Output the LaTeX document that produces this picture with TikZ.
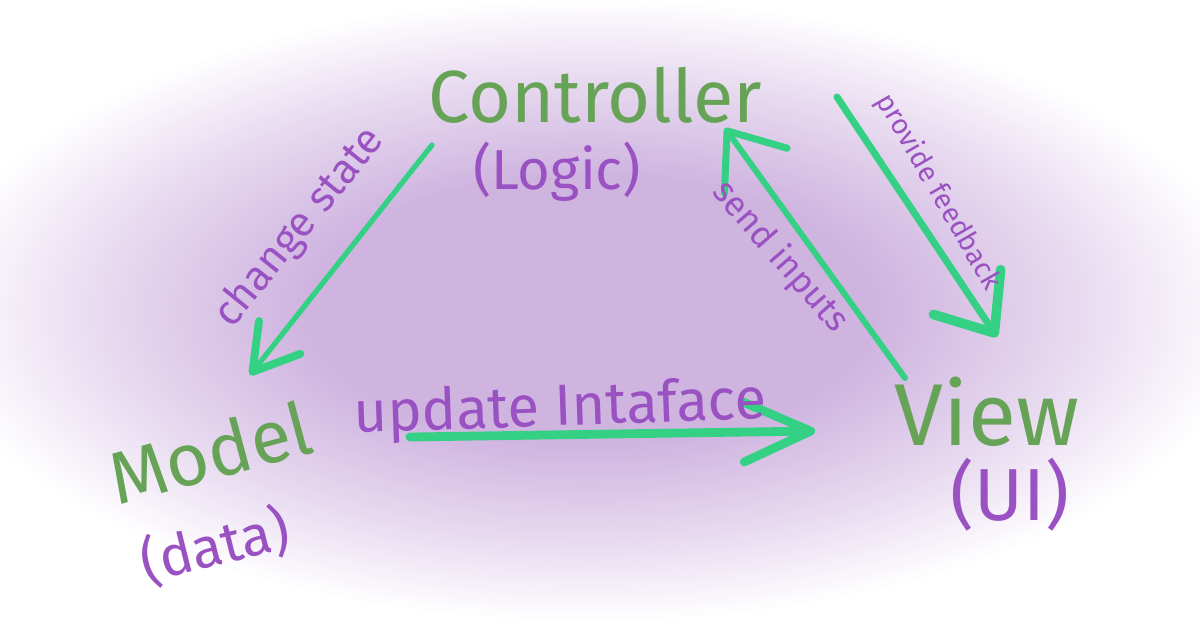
\documentclass[tikz,border=0pt]{standalone}
\usepackage{fontspec}
\setmainfont{Fira Sans}
\usetikzlibrary{arrows.meta}
\definecolor{namegreen}{RGB}{103,163,86}
\definecolor{notepurple}{RGB}{154,82,194}
\definecolor{flowgreen}{RGB}{52,209,132}
\definecolor{glowpurple}{RGB}{207,180,224}
\pgfdeclareradialshading{glow}{\pgfpoint{0bp}{0bp}}{color(0bp)=(glowpurple); color(6.5bp)=(glowpurple); color(11bp)=(glowpurple!50!white); color(15bp)=(white); color(50bp)=(white)}
\tikzset{
  parttext/.style={text=namegreen, font=\fontsize{42}{42}\selectfont},
  rolenote/.style={text=notepurple, font=\fontsize{32}{32}\selectfont},
  flowtext/.style={text=notepurple, font=\fontsize{#1}{#1}\selectfont},
  flowline/.style n args={4}{draw=flowgreen, line width=#1, line cap=round,
    -{Straight Barb[length=#2, width=#3, line width=#4, round]}}
}

\begin{document}
\begin{tikzpicture}[x=0.02cm, y=-0.02cm]

  \useasboundingbox (0,0) rectangle (1200,630);
  \fill[white] (0,0) rectangle (1200,630);
  \begin{scope}
    \clip (0,0) rectangle (1200,630);
    \shade[shading=glow] (-510,-210) rectangle (1690,830);
  \end{scope}

  \node[parttext] (ctrl) at (595,95) {Controller};
  \node[rolenote] (logic) at (557,172) {(Logic)};
  \node[parttext, rotate=15] (model) at (210,452) {Model};
  \node[rolenote, rotate=14] (data) at (215,546) {(data)};
  \node[parttext, font=\fontsize{50}{50}\selectfont] (view) at (987,412) {View};
  \node[rolenote, font=\fontsize{42}{42}\selectfont] (ui) at (1010,495) {(UI)};

  \draw[flowline={3pt}{25pt}{30pt}{4.5pt}] ([shift={(-163,50)}]ctrl.center) -- ([shift={(40,-77)}]model.center); % C->M
  \node[flowtext=24, rotate=51] (chg) at (300,228) {change state};

  \draw[flowline={5pt}{38pt}{34pt}{5pt}] ([shift={(200,-15)}]model.center) -- ([shift={(-172,19)}]view.center); % M->V
  \node[flowtext=33, rotate=2] (upd) at (560,410) {update Intaface};

  \draw[flowline={3.4pt}{28pt}{44pt}{4pt}] ([shift={(-82,-34)}]view.center) -- ([shift={(130,33)}]ctrl.center); % V->C
  \node[flowtext=20, rotate=-49] (snd) at (780,257) {send inputs};

  \draw[flowline={4pt}{28pt}{46pt}{5.5pt}] ([shift={(242,2)}]ctrl.center) -- ([shift={(10,-75)}]view.center); % C->V
  \node[flowtext=16, rotate=-60] (fbk) at (938,192) {provide feedback};

\end{tikzpicture}
\end{document}
